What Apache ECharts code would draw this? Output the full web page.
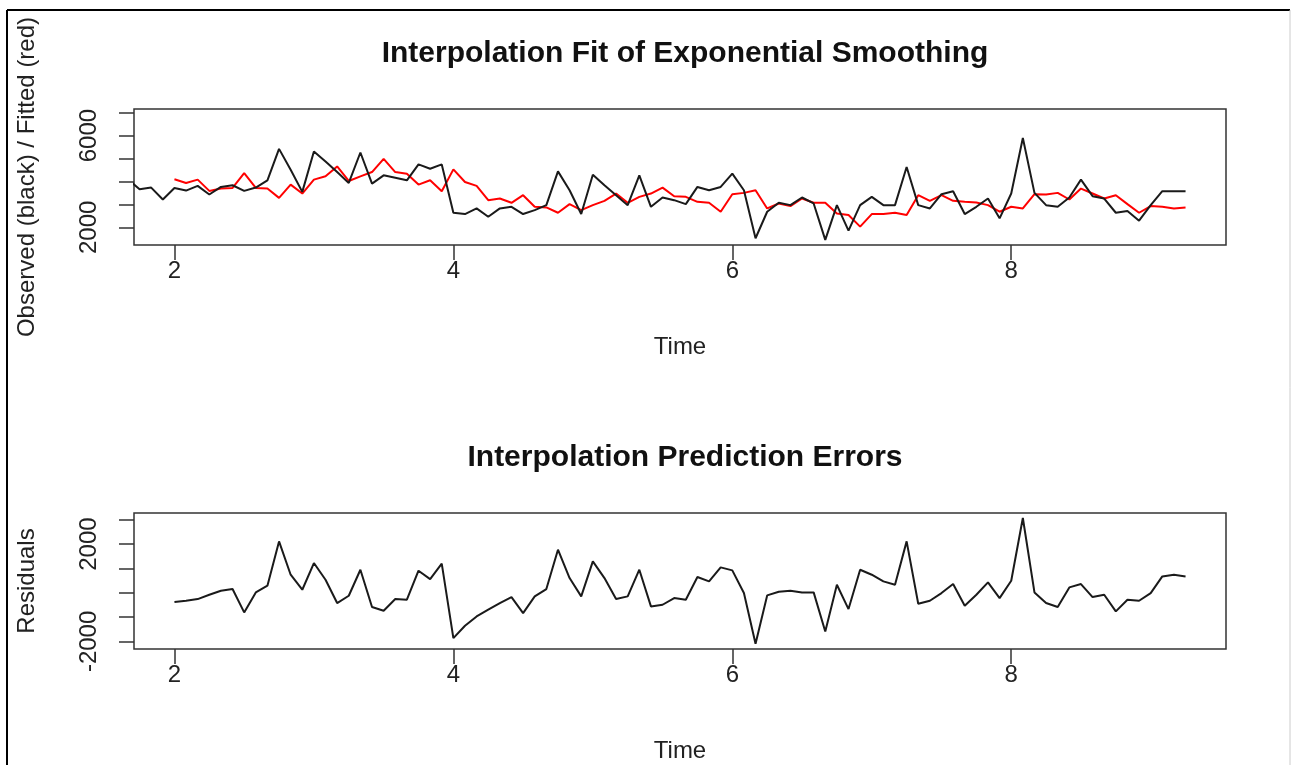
<!DOCTYPE html>
<html>
<head>
<meta charset="utf-8">
<script src="https://cdn.jsdelivr.net/npm/echarts@6/dist/echarts.min.js"></script>
<style>
  html, body { margin: 0; padding: 0; background: #fff; }
  #chart { width: 1291px; height: 765px; }
</style>
</head>
<body>
<div id="chart"></div>
<script>
// monthly series (frequency 12), time in years
const freq = 12;
const obsStart = 2 - 4 / 12;   // observed begins before the plotted window (clipped at left edge)
const fitStart = 2;

// observed values (black)
const observed = [
  4094, 3661, 3733, 3213,
  3718, 3603, 3805, 3430, 3762, 3834, 3588, 3733, 4050, 5422, 4513, 3545,
  5307, 4874, 4411, 3935, 5263, 3906, 4267, 4166, 4050, 4744, 4556, 4744,
  2635, 2578, 2823, 2462, 2823, 2895, 2578, 2751, 2967, 4440, 3617, 2578,
  4296, 3834, 3401, 2967, 4267, 2895, 3300, 3184, 3011, 3762, 3617, 3762,
  4339, 3617, 1523, 2679, 3069, 2967, 3300, 3040, 1451, 2967, 1856, 2967,
  3328, 2967, 2967, 4628, 2967, 2823, 3444, 3574, 2578, 2895, 3256, 2390,
  3473, 5899, 3502, 2967, 2895, 3300, 4079, 3357, 3256, 2635, 2708, 2289,
  2967, 3574, 3574, 3574
];

// fitted values (red)
const fitted = [
  4094, 3935, 4079, 3588, 3689, 3718, 4368, 3718, 3689, 3285, 3863, 3473,
  4079, 4224, 4657, 4022, 4224, 4411, 4989, 4411, 4339, 3863, 4050, 3574,
  4527, 3978, 3805, 3184, 3256, 3069, 3401, 2895, 2866, 2635, 3011, 2751,
  2967, 3155, 3473, 3069, 3328, 3473, 3733, 3357, 3328, 3112, 3069, 2679,
  3444, 3502, 3617, 2823, 3040, 2924, 3256, 3069, 3069, 2606, 2534, 2029,
  2578, 2578, 2635, 2534, 3401, 3155, 3401, 3155, 3112, 3083, 2967, 2679,
  2895, 2823, 3444, 3430, 3502, 3213, 3689, 3473, 3256, 3401, 3011, 2635,
  2924, 2895, 2823, 2866
];

// prediction errors
const residuals = [
  -384, -329, -261, -83, 82, 150, -809, 13, 287, 2109, 739, 123,
  1219, 534, -425, -124, 945, -589, -740, -261, -288, 904, 561, 1192,
  -1864, -1357, -973, -699, -425, -178, -836, -151, 150, 1767, 602, -151,
  1287, 602, -261, -151, 945, -562, -494, -220, -288, 644, 465, 1041,
  918, -14, -2096, -110, 41, 82, 13, 13, -1590, 328, -672, 945,
  739, 465, 328, 2109, -452, -329, -14, 356, -535, -83, 424, -220,
  493, 3069, 13, -425, -589, 219, 356, -178, -83, -768, -288, -329,
  -14, 671, 739, 671
];

const xTicks = [2, 4, 6, 8];
const fitTicks = [2000, 3000, 4000, 5000, 6000, 7000];
const fitLabels = [2000, 6000];
const resTicks = [-2000, -1000, 0, 1000, 2000, 3000];
const resLabels = [-2000, 2000];

function toPairs(start, values) {
  return values.map((v, i) => [start + i / freq, v]);
}

const FONT = 'Liberation Sans, Arial, Helvetica, sans-serif';
const BOX = '#333';

function xAxisFor(gridIndex) {
  return {
    type: 'value',
    gridIndex: gridIndex,
    min: 1.71,
    max: 9.54,
    name: 'Time',
    nameLocation: 'middle',
    nameGap: 90,
    nameTextStyle: { fontFamily: FONT, fontSize: 24, color: '#222' },
    axisLine: { show: false, onZero: false },
    splitLine: { show: false },
    axisTick: { show: true, inside: false, length: 15, customValues: xTicks,
                lineStyle: { color: BOX, width: 1.5 } },
    axisLabel: { customValues: xTicks, margin: 14, fontFamily: FONT, fontSize: 24, color: '#222',
                 formatter: v => String(v) }
  };
}

function yAxisFor(gridIndex, min, max, ticks, labels, name) {
  return {
    type: 'value',
    gridIndex: gridIndex,
    min: min,
    max: max,
    name: name,
    nameLocation: 'middle',
    nameRotate: 90,
    nameGap: 95,
    nameTextStyle: { fontFamily: FONT, fontSize: 24, color: '#222' },
    axisLine: { show: false, onZero: false },
    splitLine: { show: false },
    axisTick: { show: true, inside: false, length: 15, customValues: ticks,
                lineStyle: { color: BOX, width: 1.5 } },
    axisLabel: { customValues: labels, rotate: 90, margin: 33, fontFamily: FONT, fontSize: 24, color: '#222',
                 formatter: v => String(v) }
  };
}

const option = {
  backgroundColor: '#fff',
  animation: false,
  title: [
    { text: 'Interpolation Fit of Exponential Smoothing', left: 680, top: 34, textAlign: 'center',
      textStyle: { fontFamily: FONT, fontSize: 30, fontWeight: 'bold', color: '#111' } },
    { text: 'Interpolation Prediction Errors', left: 680, top: 438, textAlign: 'center',
      textStyle: { fontFamily: FONT, fontSize: 30, fontWeight: 'bold', color: '#111' } }
  ],
  grid: [
    { left: 134, top: 109, width: 1092, height: 136, show: true, borderColor: BOX, borderWidth: 1.5, backgroundColor: 'transparent' },
    { left: 134, top: 513, width: 1092, height: 136, show: true, borderColor: BOX, borderWidth: 1.5, backgroundColor: 'transparent' }
  ],
  xAxis: [xAxisFor(0), xAxisFor(1)],
  yAxis: [
    yAxisFor(0, 1228, 7161, fitTicks, fitLabels, 'Observed (black) / Fitted (red)'),
    yAxisFor(1, -2312, 3275, resTicks, resLabels, 'Residuals')
  ],
  series: [
    { name: 'Observed', type: 'line', xAxisIndex: 0, yAxisIndex: 0, data: toPairs(obsStart, observed),
      showSymbol: false, clip: true, lineStyle: { color: '#1a1a1a', width: 2 }, z: 3 },
    { name: 'Fitted', type: 'line', xAxisIndex: 0, yAxisIndex: 0, data: toPairs(fitStart, fitted),
      showSymbol: false, clip: true, lineStyle: { color: '#ff0000', width: 2 }, z: 2 },
    { name: 'Residuals', type: 'line', xAxisIndex: 1, yAxisIndex: 1, data: toPairs(fitStart, residuals),
      showSymbol: false, clip: true, lineStyle: { color: '#1a1a1a', width: 2 } }
  ],
  graphic: [
    { type: 'line', shape: { x1: 7, y1: 10, x2: 7, y2: 765 }, style: { stroke: '#000', lineWidth: 2 } },
    { type: 'line', shape: { x1: 7, y1: 10, x2: 1290, y2: 10 }, style: { stroke: '#000', lineWidth: 2 } },
    { type: 'line', shape: { x1: 1290, y1: 10, x2: 1290, y2: 765 }, style: { stroke: '#ccc', lineWidth: 1 } }
  ]
};

const chart = echarts.init(document.getElementById('chart'));
chart.setOption(option);
</script>
</body>
</html>
